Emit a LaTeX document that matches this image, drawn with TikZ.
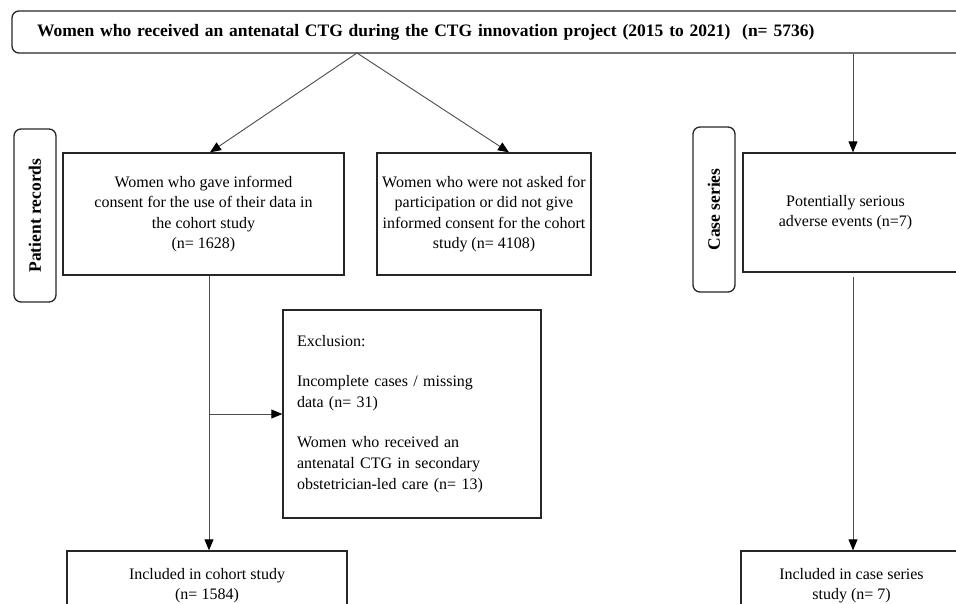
\documentclass[tikz,border=0pt]{standalone}
\usepackage{fontspec}
\setmainfont{Liberation Serif}
\usetikzlibrary{arrows.meta}
\tikzset{
  box/.style={draw=black!85, line width=1.3pt, inner sep=0pt, align=center,
    font=\fontsize{16}{20.5}\selectfont},
  sidebox/.style={draw=black!85, line width=1.3pt, rounded corners=7pt, inner sep=0pt,
    rotate=90, font=\bfseries\fontsize{17.5}{20}\selectfont},
  arr/.style={draw=black!70, line width=0.9pt, -{Triangle[length=11pt,width=9pt,color=black]}}
}
\begin{document}
\begin{tikzpicture}[x=1pt,y=-1pt]
\useasboundingbox (0,0) rectangle (956,603);
\clip (0,0) rectangle (956,603);
% top box
\node[box, rounded corners=7pt, minimum height=42pt, text width=908pt, inner xsep=25pt, align=left,
  font=\bfseries\fontsize{17.5}{20}\selectfont] (top) at (491,32)
  {Women who received an antenatal CTG during the CTG innovation project (2015 to 2021)\ \ (n= 5736)};
% side labels
\node[sidebox, minimum width=173pt, minimum height=42pt] (pr) at (35,215.5) {Patient records};
\node[sidebox, minimum width=165pt, minimum height=42pt] (cs) at (714,209.5) {Case series};
% second row
\node[box, minimum width=281pt, minimum height=122pt] (cons) at (203.5,214)
  {Women who gave informed\\consent for the use of their data in\\the cohort study\\(n= 1628)};
\node[box, minimum width=214pt, minimum height=122pt] (notask) at (484,214)
  {Women who were not asked for\\participation or did not give\\informed consent for the cohort\\study (n= 4108)};
\node[box, minimum width=227pt, minimum height=119pt] (pse) at (856.5,212.5)
  {Potentially serious\hspace*{22pt}\\adverse events (n=7)\hspace*{22pt}};
% exclusion
\node[box, minimum width=258pt, minimum height=208pt, text width=230pt, inner xsep=14pt, align=left,
  font=\fontsize{16}{21}\selectfont] (excl) at (412,414)
  {Exclusion:\\[19pt]Incomplete cases / missing\\data (n= 31)\\[19pt]Women who received an\\antenatal CTG in secondary\\obstetrician-led care (n= 13)};
% bottom row
\node[box, minimum width=280pt, minimum height=69pt] (incl) at (207,585.5)
  {Included in cohort study\\(n= 1584)};
\node[box, minimum width=229pt, minimum height=69pt] (incs) at (855.5,585.5)
  {Included in case series\hspace*{8pt}\\study (n= 7)\hspace*{8pt}};
% connectors
\coordinate (apex) at (357,53);
\draw[arr] (apex) -- ([xshift=6.5pt]cons.north);
\draw[arr] (apex) -- ([xshift=25pt]notask.north);
\coordinate (rtx) at ([xshift=-3.5pt]pse.north);
\draw[arr] (top.south -| rtx) -- (rtx);
\coordinate (lx) at ([xshift=2pt]incl.north);
\draw[arr] (cons.south -| lx) -- (lx);
\draw[arr] (excl.west -| lx) -- (excl.west);
\coordinate (rbx) at ([xshift=-2.5pt]incs.north);
\draw[arr] ([yshift=-4pt]pse.south -| rbx) -- (rbx);
\end{tikzpicture}
\end{document}
